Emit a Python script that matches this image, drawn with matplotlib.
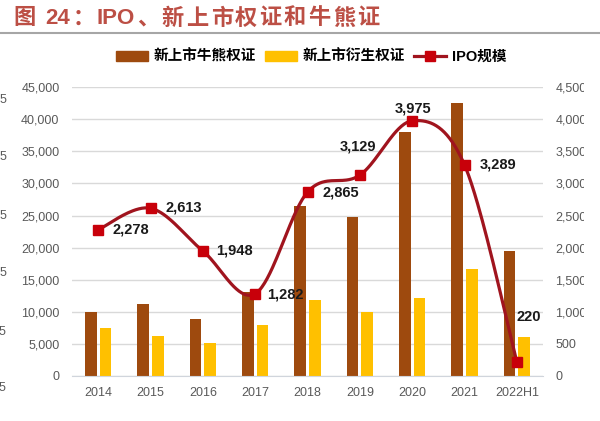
import numpy as np
import matplotlib.pyplot as plt
from matplotlib.patches import Patch
from matplotlib.lines import Line2D
from matplotlib.transforms import Bbox, TransformedBbox

years = ['2014', '2015', '2016', '2017', '2018', '2019', '2020', '2021', '2022H1']
cbbc = [9900, 11200, 8800, 13100, 26500, 24700, 38000, 42600, 19400]
warrants = [7500, 6300, 5100, 8000, 11800, 10000, 12100, 16700, 6100]
ipo = [2278, 2613, 1948, 1282, 2865, 3129, 3975, 3289, 220]
title_parts = ['图', ' ', '24', '：', 'IPO', '、', '新', '上', '市', '权', '证',
               '和', '牛', '熊', '证']

# label offsets in pixels (dx, dy, ha)
lab_pos = [(14, 0, 'left'), (15, 1, 'left'), (13, 0, 'left'), (12, -1, 'left'),
           (15, 0, 'left'), (-2, 29, 'center'), (1, 12, 'center'), (15, 0, 'left'),
           (0, 45, 'left')]

BROWN = '#9E4A0E'
YELLOW = '#FFC000'
LINE = '#A0141E'
MARK = '#C8000A'
GRAY = '#595959'
latin_cjk = ['Liberation Sans', 'Noto Sans CJK SC']


def smooth(xs, ys, n=40):
    # excel style smoothed line (catmull-rom through the points)
    p = np.column_stack([xs, ys]).astype(float)
    p = np.vstack([p[0], p, p[-1]])
    out = []
    t = np.linspace(0, 1, n)
    for i in range(1, len(p) - 2):
        p0, p1, p2, p3 = p[i - 1], p[i], p[i + 1], p[i + 2]
        c1 = p1 + (p2 - p0) / 6
        c2 = p2 - (p3 - p1) / 6
        seg = ((1 - t) ** 3)[:, None] * p1 + (3 * (1 - t) ** 2 * t)[:, None] * c1 \
            + (3 * (1 - t) * t ** 2)[:, None] * c2 + (t ** 3)[:, None] * p2
        out.append(seg)
    out = np.vstack(out)
    return out[:, 0], out[:, 1]


fig = plt.figure(figsize=(6, 4.21), dpi=100)
ax = fig.add_axes([0.12, 0.107, 0.785, 0.686])
ax2 = ax.twinx()

x = np.arange(len(years))
ax.bar(x - 0.14, cbbc, width=0.225, color=BROWN, zorder=2)
ax.bar(x + 0.14, warrants, width=0.225, color=YELLOW, zorder=2)

ax.set_xlim(-0.5, len(years) - 0.5)
ax.set_ylim(0, 45000)
ax.set_yticks(range(0, 45001, 5000))
ax.set_yticklabels([f'{v:,}' for v in range(0, 45001, 5000)])
ax.set_xticks(x)
ax.set_xticklabels(years)
ax.yaxis.grid(True, color='#D9D9D9', lw=1)
ax.set_axisbelow(True)

ax2.set_ylim(0, 4500)
ax2.set_yticks(range(0, 4501, 500))
ax2.set_yticklabels([f'{v:,}' for v in range(0, 4501, 500)])

for a in (ax, ax2):
    for s in a.spines.values():
        s.set_visible(False)
    a.tick_params(length=0, labelsize=9, labelcolor=GRAY, pad=9)
    for lb in a.get_xticklabels() + a.get_yticklabels():
        lb.set_fontfamily('Liberation Sans')
ax.spines['bottom'].set_visible(True)
ax.spines['bottom'].set_color('#D0D5DC')
ax.tick_params(axis='x', pad=8)

# the source image is cut just after the right axis labels
clip = TransformedBbox(Bbox([[0, 0], [584 / 600, 1]]), fig.transFigure)
for lb in ax2.get_yticklabels():
    lb.set_clip_box(clip)
    lb.set_clip_on(True)

sx, sy = smooth(x, ipo)
ax2.plot(sx, sy, color=LINE, lw=2.3, zorder=3)
ax2.plot(x, ipo, ls='none', marker='s', ms=7, color=MARK, zorder=4)

for i, v in enumerate(ipo):
    dx, dy, ha = lab_pos[i]
    ax2.annotate(f'{v:,}', (x[i], v), xytext=(dx, dy), textcoords='offset pixels',
                 ha=ha, va='center', fontsize=10.5, fontweight='bold',
                 fontfamily='Liberation Sans', color='#1A1A1A', zorder=5)

handles = [Patch(color=BROWN), Patch(color=YELLOW),
           Line2D([], [], color=LINE, lw=2.3, marker='s', ms=7, mfc=MARK, mec=MARK)]
fig.legend(handles, ['新上市牛熊权证', '新上市衍生权证', 'IPO规模'], ncol=3,
           loc='center', bbox_to_anchor=(0.518, 0.865), frameon=False,
           prop={'family': latin_cjk, 'weight': 'bold', 'size': 10.5},
           handlelength=2.2, handletextpad=0.4, columnspacing=0.6)

# title is slightly letter-spaced, so place it piece by piece
renderer = fig.canvas.get_renderer()
cx = 13
for part in title_parts:
    if part == ' ':
        cx += 8
        continue
    t = fig.text(cx / 600, 1 - 19 / 421, part, ha='left', va='center',
                 fontsize=16, fontweight='bold', color='#BC4F45', family=latin_cjk)
    cx = t.get_window_extent(renderer).x1 + 2.2
fig.add_artist(Line2D([0, 1], [1 - 33 / 421] * 2, color='#A6A6A6', lw=1.5,
                      transform=fig.transFigure))

# remnants of the neighbouring chart at the left edge
for yy, s in [(100, '5'), (157, '5'), (216, '5'), (273, '5'), (332, '05'), (388, '15')]:
    fig.text(6 / 600, 1 - yy / 421, s, ha='right', va='center', fontsize=9,
             color=GRAY, family='Liberation Sans')

fig.savefig('out.png', dpi=100)
